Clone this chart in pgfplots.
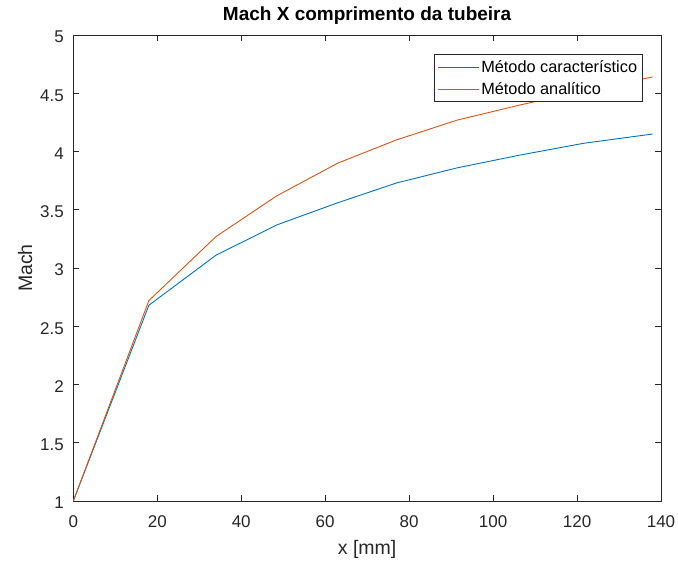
\documentclass[border=0pt]{standalone}
\usepackage{pgfplots}
\pgfplotsset{compat=1.18}
\usepackage{fontspec}
\setmainfont{Liberation Sans}

\definecolor{mlblue}{RGB}{0,114,189}
\definecolor{mlorange}{RGB}{217,83,25}
\definecolor{axgray}{RGB}{38,38,38}

\begin{document}
\begin{tikzpicture}
\path[use as bounding box] (-73.3pt,-63pt) rectangle (604.7pt,501pt);
\begin{axis}[
  scale only axis,
  width=587.7pt, height=466pt,
  xmin=0, xmax=140, ymin=1, ymax=5,
  xtick={0,20,...,140},
  ytick={1,1.5,...,5},
  tick align=inside,
  tick pos=both,
  major tick length=6pt,
  axis line style={axgray, line width=0.8pt},
  every tick/.style={axgray, line width=0.8pt},
  tick label style={font=\fontsize{17}{19}\selectfont, text=axgray},
  /pgf/number format/assume math mode=true,
  xticklabel style={anchor=base, yshift=-27pt},
  yticklabel style={anchor=east, xshift=-6pt, yshift=-2pt,
    /pgf/number format/.cd, fixed, precision=1},
  title={\textbf{Mach X comprimento da tubeira}},
  title style={font=\fontsize{19}{21}\selectfont, at={(axis description cs:0.5,1)}, anchor=base, yshift=8.3pt},
  xlabel={x [mm]},
  ylabel={Mach},
  every axis x label/.style={at={(axis description cs:0.5,-0.103)}, anchor=center, font=\fontsize{19.5}{21}\selectfont, text=axgray},
  every axis y label/.style={at={(axis description cs:-0.082,0.5)}, rotate=90, anchor=center, font=\fontsize{19.5}{21}\selectfont, text=axgray},
  legend style={at={(1,1)}, anchor=north east, xshift=-18.5pt, yshift=-19pt,
    draw=axgray, line width=0.8pt, font=\fontsize{16.3}{18}\selectfont,
    inner xsep=3pt, inner ysep=4pt, row sep=4.5pt},
  legend cell align=left,
  legend image code/.code={\draw[#1, line width=0.9pt] (0pt,0pt) -- (41pt,0pt);},
]
\addplot[mlblue, line width=0.9pt] coordinates {
  (0,1) (18,2.68) (34,3.11) (48.5,3.37) (63,3.56) (77,3.73)
  (91.5,3.86) (106.5,3.97) (121.5,4.07) (138,4.15)
};
\addlegendentry{Método característico}
\addplot[mlorange, line width=0.9pt] coordinates {
  (0,1) (18,2.72) (34,3.27) (48.5,3.62) (63,3.90) (77,4.10)
  (91.5,4.27) (106.5,4.40) (121.5,4.52) (138,4.64)
};
\addlegendentry{Método analítico}
\end{axis}
\end{tikzpicture}
\end{document}
